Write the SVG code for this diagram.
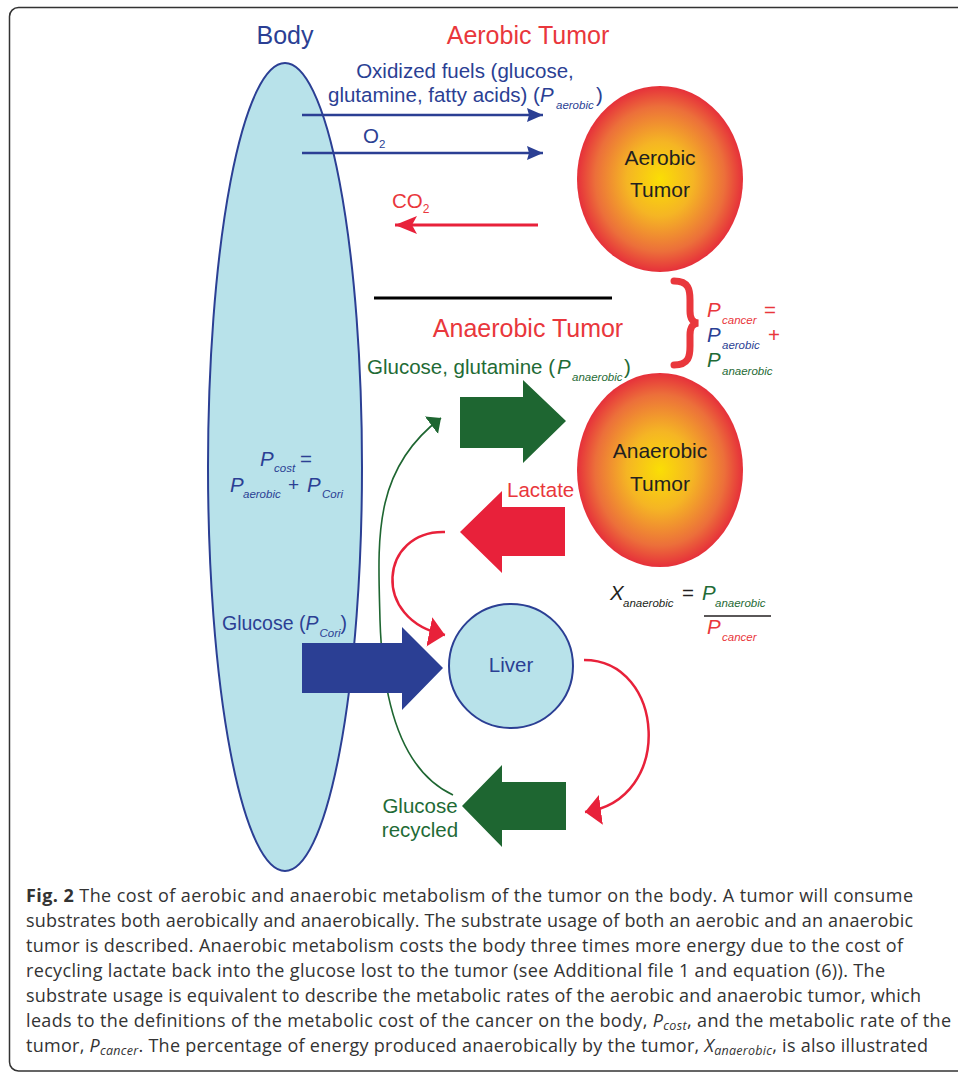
<svg xmlns="http://www.w3.org/2000/svg" width="958" height="1074" viewBox="0 0 958 1074">
<defs>
<radialGradient id="tumorGrad" cx="50%" cy="50%" r="50%">
<stop offset="0" stop-color="#fade05"/>
<stop offset="0.4" stop-color="#f5b524"/>
<stop offset="0.78" stop-color="#ec6f3a"/>
<stop offset="1" stop-color="#e6303a"/>
</radialGradient>
<marker id="ahBlue" markerUnits="userSpaceOnUse" markerWidth="18" markerHeight="16" refX="16" refY="7" orient="auto"><path d="M0,0 L16,7 L0,14 L2,7 z" fill="#2b3f94"/></marker>
<marker id="ahRedBig" markerUnits="userSpaceOnUse" markerWidth="24" markerHeight="20" refX="22" refY="9" orient="auto"><path d="M0,0 L22,9 L0,18 L5,9 z" fill="#e8213a"/></marker>
<marker id="ahRed" markerUnits="userSpaceOnUse" markerWidth="18" markerHeight="32" refX="16" refY="15" orient="auto"><path d="M0,0 L16,15 L0,30 z" fill="#e8213a"/></marker>
<marker id="ahGreen" markerUnits="userSpaceOnUse" markerWidth="14" markerHeight="24" refX="12" refY="11" orient="auto"><path d="M0,0 L12,11 L0,22 z" fill="#1e6631"/></marker>
</defs>
<style>
text{font-family:"Liberation Sans",Arial,Helvetica,sans-serif;font-size:20.5px}
.title{font-size:25px}
.blue{fill:#2b3f94}
.red{fill:#e9373c}
.green{fill:#1f6b36}
.dark{fill:#231f20}
.it{font-style:italic}
.sub{font-size:11.5px;font-style:italic}
.cap{font-family:"Open Sans","Liberation Sans",sans-serif;font-size:18px;fill:#333}
.cap .s{font-size:12.5px;font-style:italic}
.tumor{fill:url(#tumorGrad)}
.organ{fill:#b8e2ea;stroke:#2b3f94;stroke-width:2}
</style>
<rect x="9.5" y="7.5" width="970" height="1063.5" rx="9" fill="#fff" stroke="#333" stroke-width="1.5"/>

<g id="body">
<ellipse class="organ" cx="285" cy="467" rx="77" ry="404"/>
</g>

<g id="aerobic-tumor">
<ellipse class="tumor" cx="660" cy="179" rx="83" ry="93"/>
<text x="660" y="165" text-anchor="middle" class="dark" style="font-size:21px">Aerobic</text>
<text x="660" y="197" text-anchor="middle" class="dark" style="font-size:21px">Tumor</text>
</g>

<g id="anaerobic-tumor">
<ellipse class="tumor" cx="660" cy="470" rx="83" ry="97"/>
<text x="660" y="458" text-anchor="middle" class="dark" style="font-size:21px">Anaerobic</text>
<text x="660" y="491" text-anchor="middle" class="dark" style="font-size:21px">Tumor</text>
</g>

<g id="liver">
<circle class="organ" cx="511" cy="666" r="62"/>
<text x="511" y="672" text-anchor="middle" class="blue">Liver</text>
</g>

<g id="connectors">
<line x1="302" y1="115" x2="543" y2="115" stroke="#2b3f94" stroke-width="2.5" marker-end="url(#ahBlue)"/>
<line x1="302" y1="153" x2="543" y2="153" stroke="#2b3f94" stroke-width="2.5" marker-end="url(#ahBlue)"/>
<line x1="538" y1="225" x2="395" y2="225" stroke="#e8213a" stroke-width="3" marker-end="url(#ahRedBig)"/>
<line x1="374" y1="298" x2="612" y2="298" stroke="#000" stroke-width="3"/>
<path d="M453,795 C410,775 383,720 380,620 C378,540 372,470 441,418" fill="none" stroke="#1e6631" stroke-width="1.6" marker-end="url(#ahGreen)"/>
<path d="M445,532 C380,530 370,620 445,635" fill="none" stroke="#e8213a" stroke-width="2.5" marker-end="url(#ahRed)"/>
<path d="M584,660 C665,660 675,800 585,812" fill="none" stroke="#e8213a" stroke-width="2.5" marker-end="url(#ahRed)"/>
<polygon points="460,397 523,397 523,380 566,421 523,463 523,448 460,448" fill="#1e6631"/>
<polygon points="565,507 502,507 502,491 460,532 502,573 502,556 565,556" fill="#e8213a"/>
<polygon points="302,643 402,643 402,627 443,668 402,710 402,693 302,693" fill="#2b3f94"/>
<polygon points="566,782 502,782 502,765 462,806 502,847 502,830 566,830" fill="#1e6631"/>
<path d="M674,281 C689,281 690,290 690,300 L690,311 C690,318 692,322 698,323 C692,324 690,328 690,335 L690,346 C690,356 689,365 674,365" fill="none" stroke="#e9373c" stroke-width="7" stroke-linecap="round"/>
</g>

<g id="labels">
<text x="285" y="44" text-anchor="middle" class="title blue">Body</text>
<text x="528" y="44" text-anchor="middle" class="title red">Aerobic Tumor</text>
<text x="528" y="337" text-anchor="middle" class="title red">Anaerobic Tumor</text>
<text x="465" y="78" text-anchor="middle" class="blue">Oxidized fuels (glucose,</text>
<text x="328" y="102" class="blue">glutamine, fatty acids) (<tspan class="it" x="540">P</tspan><tspan class="sub" x="556" dy="7">aerobic</tspan><tspan x="596" dy="-7">)</tspan></text>
<text x="363" y="143" class="blue">O<tspan class="sub" style="font-style:normal" dy="5">2</tspan></text>
<text x="392" y="208" class="red">CO<tspan style="font-size:12px" dy="5">2</tspan></text>
<text x="367" y="374" class="green">Glucose, glutamine (<tspan class="it" x="557">P</tspan><tspan class="sub" x="572" dy="7">anaerobic</tspan><tspan x="624" dy="-7">)</tspan></text>
<text x="507" y="497" class="red">Lactate</text>
<text x="222" y="630" class="blue" style="font-size:19.5px">Glucose (<tspan class="it">P</tspan><tspan class="sub" dx="1" dy="7">Cori</tspan><tspan dy="-7">)</tspan></text>
<text x="420" y="813" text-anchor="middle" class="green">Glucose</text>
<text x="420" y="837" text-anchor="middle" class="green">recycled</text>
</g>

<g id="formulas">
<text x="260" y="466" class="blue"><tspan class="it">P</tspan><tspan class="sub" x="274" dy="6">cost</tspan><tspan x="300" dy="-6">=</tspan></text>
<text x="230" y="492" class="blue"><tspan class="it">P</tspan><tspan class="sub" x="243" dy="6">aerobic</tspan></text>
<text x="288" y="491" class="blue" style="font-size:19px">+</text>
<text x="307" y="492" class="blue"><tspan class="it">P</tspan><tspan class="sub" x="322" dy="6">Cori</tspan></text>
<text x="707" y="317" class="red"><tspan class="it">P</tspan><tspan class="sub" x="722" dy="7">cancer</tspan><tspan x="764" dy="-7">=</tspan></text>
<text x="707" y="342" class="blue"><tspan class="it">P</tspan><tspan class="sub" x="722" dy="7">aerobic</tspan><tspan x="768" dy="-7" class="red">+</tspan></text>
<text x="707" y="367" class="green"><tspan class="it">P</tspan><tspan class="sub" x="722" dy="8">anaerobic</tspan></text>
<text x="610" y="600" class="dark"><tspan class="it">X</tspan><tspan class="sub" x="623" dy="7">anaerobic</tspan><tspan x="682" dy="-7">=</tspan><tspan class="it green" x="702">P</tspan><tspan class="sub green" x="715" dy="7">anaerobic</tspan></text>
<line x1="704" y1="616" x2="771" y2="616" stroke="#231f20" stroke-width="1.5"/>
<text x="707" y="634" class="red"><tspan class="it">P</tspan><tspan class="sub" x="722" dy="7">cancer</tspan></text>
</g>

<g id="caption">
<text class="cap" x="26" y="902" textLength="887" lengthAdjust="spacing"><tspan font-weight="bold">Fig. 2</tspan> The cost of aerobic and anaerobic metabolism of the tumor on the body. A tumor will consume</text>
<text class="cap" x="26" y="927" textLength="887" lengthAdjust="spacing">substrates both aerobically and anaerobically. The substrate usage of both an aerobic and an anaerobic</text>
<text class="cap" x="26" y="952" textLength="877" lengthAdjust="spacing">tumor is described. Anaerobic metabolism costs the body three times more energy due to the cost of</text>
<text class="cap" x="26" y="977" textLength="859" lengthAdjust="spacing">recycling lactate back into the glucose lost to the tumor (see Additional file 1 and equation (6)). The</text>
<text class="cap" x="26" y="1002" textLength="895" lengthAdjust="spacing">substrate usage is equivalent to describe the metabolic rates of the aerobic and anaerobic tumor, which</text>
<text class="cap" x="26" y="1027" textLength="925" lengthAdjust="spacing">leads to the definitions of the metabolic cost of the cancer on the body, <tspan font-style="italic">P</tspan><tspan class="s" dy="3">cost</tspan><tspan dy="-3">, and the metabolic rate of the</tspan></text>
<text class="cap" x="26" y="1052" textLength="902" lengthAdjust="spacing">tumor, <tspan font-style="italic">P</tspan><tspan class="s" dy="3">cancer</tspan><tspan dy="-3">. The percentage of energy produced anaerobically by the tumor, </tspan><tspan font-style="italic">X</tspan><tspan class="s" dy="3">anaerobic</tspan><tspan dy="-3">, is also illustrated</tspan></text>
</g>
</svg>
